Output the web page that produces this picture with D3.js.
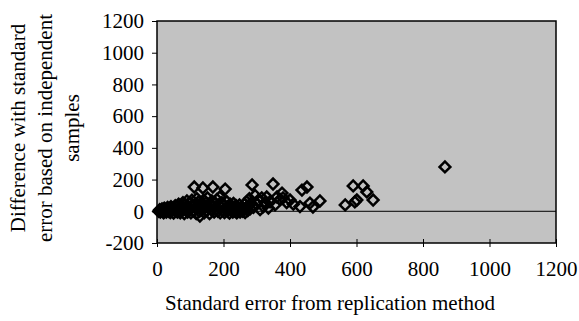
<!DOCTYPE html>
<html>
<head>
<meta charset="utf-8">
<script src="https://cdnjs.cloudflare.com/ajax/libs/d3/7.8.5/d3.min.js"></script>
<style>
  body { margin: 0; background: #fff; }
  text { font-family: "Liberation Serif", "Times New Roman", serif; fill: #000; }
</style>
</head>
<body>
<svg id="chart" width="579" height="321"></svg>
<script>
// standard error from replication method (x) vs difference with SE from independent samples (y)
const seReplication = [5,8,10,12,15,18,20,22,25,28,30,32,35,38,40,42,45,48,50,52,55,58,60,62,65,68,70,72,75,78,
  80,82,85,88,90,92,95,98,100,102,105,108,110,112,115,118,120,122,125,128,129,132,135,138,140,142,145,148,150,152,
  155,158,160,163,165,168,170,172,175,178,180,183,185,189,190,193,195,198,200,203,205,208,210,212,215,218,220,222,225,228,
  230,233,235,238,240,243,245,248,250,253,255,258,260,263,265,268,270,273,275,278,280,283,286,290,295,300,305,310,315,320,
  325,330,335,340,349,355,361,370,376,379,390,400,410,430,436,451,460,469,490,566,590,595,601,620,631,650,866];
const seDifference = [0,10,-5,5,15,0,-10,20,5,-5,10,25,0,15,-8,30,5,20,-12,10,35,0,25,-5,45,15,-10,30,5,55,
  20,-15,40,10,65,-5,30,50,15,-10,70,35,5,153,45,-15,80,20,60,0,-30,40,10,147,70,-10,30,55,5,85,
  20,-15,45,10,65,153,30,-5,50,15,75,0,40,90,-10,25,55,5,35,-8,140,20,60,0,30,-12,45,10,25,-5,
  50,15,0,35,-10,20,5,40,-5,15,30,0,10,45,-8,20,60,5,35,80,15,50,166,25,100,45,70,10,85,30,
  55,90,20,60,172,40,90,75,115,84,55,71,45,30,134,153,52,27,65,40,160,59,71,160,122,71,280];

const xTicks = [0,200,400,600,800,1000,1200];
const yTicks = [-200,0,200,400,600,800,1000,1200];
const xTitle = "Standard error from replication method";
const yTitle = ["Difference with standard", "error based on independent", "samples"];

const points = seReplication.map((x, i) => ({x: x, y: seDifference[i]}));

const margin = {left: 157, top: 21};
const w = 399, h = 222;

const svg = d3.select('#chart');
const g = svg.append('g').attr('transform', `translate(${margin.left},${margin.top})`);

const x = d3.scaleLinear().domain([0, 1200]).range([0, w]);
const y = d3.scaleLinear().domain([-200, 1200]).range([h, 0]);
const fmt = d => String(d);

// plot area
g.append('rect')
  .attr('width', w).attr('height', h)
  .attr('fill', '#c2c2c2');

// zero line
g.append('line')
  .attr('x1', 0).attr('x2', w)
  .attr('y1', y(0)).attr('y2', y(0))
  .attr('stroke', '#000').attr('stroke-width', 1);

// markers
const diamond = d3.symbol().type(d3.symbolSquare).size(58);
g.selectAll('path.pt')
  .data(points)
  .enter().append('path')
  .attr('class', 'pt')
  .attr('d', diamond)
  .attr('transform', d => `translate(${x(d.x)},${y(d.y)}) rotate(45)`)
  .attr('fill', 'none')
  .attr('stroke', '#000')
  .attr('stroke-width', 2.5);

// border
g.append('rect')
  .attr('width', w).attr('height', h)
  .attr('fill', 'none')
  .attr('stroke', '#000').attr('stroke-width', 1.5);

// axes
const yAxis = d3.axisLeft(y).tickValues(yTicks).tickFormat(fmt).tickSize(5).tickPadding(8);
const yG = g.append('g').call(yAxis).attr('font-family', null).attr('font-size', 21);
yG.select('.domain').remove();

const xAxis = d3.axisBottom(x).tickValues(xTicks).tickFormat(fmt).tickSizeInner(4).tickSizeOuter(0).tickPadding(14);
const xG = g.append('g').attr('transform', `translate(0,${h})`).call(xAxis)
  .attr('font-family', null).attr('font-size', 21);
xG.select('.domain').remove();
xG.selectAll('.tick line').attr('y1', -4);

// titles
svg.append('text')
  .attr('x', 330).attr('y', 310)
  .attr('text-anchor', 'middle')
  .attr('font-size', 21)
  .text(xTitle);

const yt = svg.append('text')
  .attr('transform', 'translate(0,128) rotate(-90)')
  .attr('text-anchor', 'middle')
  .attr('font-size', 21);
yTitle.forEach((line, i) => {
  yt.append('tspan').attr('x', 0).attr('y', 25 + i * 27).text(line);
});
</script>
</body>
</html>
